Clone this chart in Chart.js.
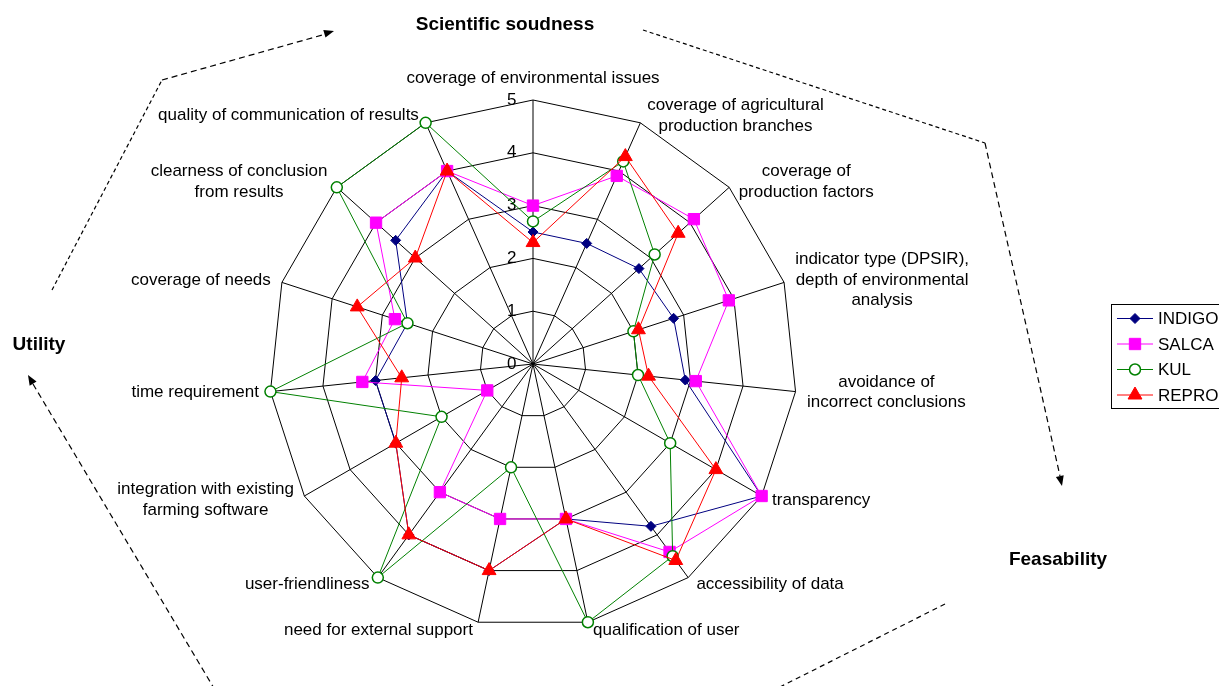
<!DOCTYPE html>
<html>
<head>
<meta charset="utf-8">
<title>Radar chart</title>
<script src="https://cdn.jsdelivr.net/npm/chart.js@4.4.1/dist/chart.umd.min.js"></script>
<style>
  html, body { margin: 0; padding: 0; background: #fff; }
  canvas { display: block; }
</style>
</head>
<body>
<canvas id="radarChart" width="1219" height="686"></canvas>
<script>
// criteria, clockwise from the top
const criteria = [
  "coverage of environmental issues",
  ["coverage of agricultural", "production branches"],
  ["coverage of", "production factors"],
  ["indicator type (DPSIR),", "depth of environmental", "analysis"],
  ["avoidance of", "incorrect conclusions"],
  "transparency",
  "accessibility of data",
  "qualification of user",
  "need for external support",
  "user-friendliness",
  ["integration with existing", "farming software"],
  "time requirement",
  "coverage of needs",
  ["clearness of conclusion", "from results"],
  "quality of communication of results"
];

// scores per tool
const indigo = [2.5, 2.5, 2.7, 2.8, 2.9, 5, 3.8, 3, 4, 4, 3, 3, 2.5, 3.5, 4];
const salca  = [3, 3.9, 4.1, 3.9, 3.1, 5, 4.4, 3, 3, 3, 1, 3.25, 2.75, 4, 4];
const kul    = [2.7, 4.2, 3.1, 2, 2, 3, 4.5, 5, 2, 5, 2, 5, 2.5, 5, 5];
const repro  = [2.3, 4.3, 3.7, 2.1, 2.2, 4, 4.6, 3, 4, 4, 3, 2.5, 3.5, 3, 4];

const tickValues = [0, 1, 2, 3, 4, 5];
const seriesNames = ["INDIGO", "SALCA", "KUL", "REPRO"];
const groupNames = ["Scientific soudness", "Utility", "Feasability"];

const FONT = '"Liberation Sans", Arial, sans-serif';
Chart.defaults.font.family = FONT;
Chart.defaults.color = "#000";

// draw a marker like the chart points (used for the legend)
function drawMarker(ctx, style, r, x, y) {
  ctx.beginPath();
  if (style === "rectRot") {
    ctx.moveTo(x - r, y); ctx.lineTo(x, y - r); ctx.lineTo(x + r, y); ctx.lineTo(x, y + r);
  } else if (style === "rect") {
    const s = Math.SQRT1_2 * r;
    ctx.rect(x - s, y - s, 2 * s, 2 * s);
  } else if (style === "triangle") {
    for (let k = 0; k < 3; k++) {
      const a = k * 2 * Math.PI / 3;
      const px = x + Math.sin(a) * r, py = y - Math.cos(a) * r;
      if (k === 0) ctx.moveTo(px, py); else ctx.lineTo(px, py);
    }
  } else {
    ctx.arc(x, y, r, 0, Math.PI * 2);
  }
  ctx.closePath();
  ctx.fill();
  ctx.stroke();
}

// axis labels, placed just outside the outer ring
const axisLabels = {
  id: "axisLabels",
  afterDraw(chart) {
    const scale = chart.scales.r;
    const ctx = chart.ctx;
    const lineH = 20.7;
    ctx.save();
    ctx.font = "17px " + FONT;
    ctx.fillStyle = "#000";
    ctx.textAlign = "center";
    ctx.textBaseline = "middle";
    criteria.forEach((label, i) => {
      const lines = Array.isArray(label) ? label : [label];
      const angle = scale.getIndexAngle(i);
      const p = scale.getPointPosition(i, scale.drawingArea + 8);
      const w = Math.max(...lines.map((t) => ctx.measureText(t).width));
      const h = lines.length * lineH;
      const s = Math.sin(angle);
      let cx = p.x;
      let top = p.y - h / 2;
      if (s > 0.05) cx = p.x + 3.5 + w / 2;
      else if (s < -0.05) cx = p.x - 3.5 - w / 2;
      else top = p.y - 3 - h;
      lines.forEach((t, k) => ctx.fillText(t, cx, top + lineH * (k + 0.5)));
    });
    ctx.restore();
  }
};

// legend box on the right, line + marker per series
const sideLegend = {
  id: "sideLegend",
  afterDraw(chart) {
    const ctx = chart.ctx;
    ctx.save();
    ctx.strokeStyle = "#000";
    ctx.lineWidth = 1;
    ctx.strokeRect(1111.5, 304.5, 130, 104);
    ctx.font = "17px " + FONT;
    ctx.textBaseline = "middle";
    ctx.textAlign = "left";
    chart.data.datasets.forEach((ds, i) => {
      const y = 318.5 + i * 25.5;
      ctx.strokeStyle = ds.borderColor;
      ctx.lineWidth = 1;
      ctx.beginPath();
      ctx.moveTo(1117, y);
      ctx.lineTo(1153, y);
      ctx.stroke();
      ctx.fillStyle = ds.pointBackgroundColor;
      ctx.strokeStyle = ds.pointBorderColor;
      ctx.lineWidth = ds.pointBorderWidth;
      drawMarker(ctx, ds.pointStyle, ds.pointRadius, 1135, y);
      ctx.fillStyle = "#000";
      ctx.fillText(ds.label, 1158, y + 1);
    });
    ctx.restore();
  }
};

// group titles and dashed arrows around the web
const groupArrows = {
  id: "groupArrows",
  afterDraw(chart) {
    const ctx = chart.ctx;
    ctx.save();
    ctx.strokeStyle = "#000";
    ctx.fillStyle = "#000";
    ctx.lineWidth = 1.2;

    function dashed(pts, dash) {
      ctx.setLineDash(dash);
      ctx.beginPath();
      ctx.moveTo(pts[0][0], pts[0][1]);
      for (let k = 1; k < pts.length; k++) ctx.lineTo(pts[k][0], pts[k][1]);
      ctx.stroke();
      ctx.setLineDash([]);
    }
    function head(from, to) {
      const a = Math.atan2(to[1] - from[1], to[0] - from[0]);
      const len = 10, half = 4;
      ctx.beginPath();
      ctx.moveTo(to[0], to[1]);
      ctx.lineTo(to[0] - len * Math.cos(a) + half * Math.sin(a), to[1] - len * Math.sin(a) - half * Math.cos(a));
      ctx.lineTo(to[0] - len * Math.cos(a) - half * Math.sin(a), to[1] - len * Math.sin(a) + half * Math.cos(a));
      ctx.closePath();
      ctx.fill();
    }

    dashed([[52, 290], [162, 80]], [4, 3]);
    dashed([[162, 80], [326, 34]], [6, 4]);
    head([162, 80], [334, 31]);

    dashed([[643, 30], [985, 143]], [4, 3]);
    dashed([[985, 143], [1060, 476]], [6, 4]);
    head([985, 143], [1062, 486]);

    dashed([[945, 604], [770, 692]], [5, 4]);

    dashed([[215, 690], [33, 384]], [6, 4]);
    head([215, 690], [28, 375]);

    ctx.font = "bold 19px " + FONT;
    ctx.textAlign = "center";
    ctx.textBaseline = "middle";
    ctx.fillText(groupNames[0], 505, 25);
    ctx.fillText(groupNames[1], 39, 345);
    ctx.fillText(groupNames[2], 1058, 560);
    ctx.restore();
  }
};

function series(name, data, color, style, radius, fillColor, borderW, order) {
  return {
    label: name,
    data: data,
    borderColor: color,
    backgroundColor: color,
    borderWidth: 1,
    fill: false,
    tension: 0,
    pointStyle: style,
    pointRadius: radius,
    pointHoverRadius: radius,
    pointBackgroundColor: fillColor,
    pointBorderColor: color,
    pointBorderWidth: borderW,
    order: order
  };
}

const ctx = document.getElementById("radarChart");

new Chart(ctx, {
  type: "radar",
  data: {
    labels: criteria,
    datasets: [
      series(seriesNames[0], indigo, "#000080", "rectRot", 5, "#000080", 1, 4),
      series(seriesNames[1], salca, "#ff00ff", "rect", 8, "#ff00ff", 1, 3),
      series(seriesNames[2], kul, "#008000", "circle", 5.5, "#ffffff", 1.5, 2),
      series(seriesNames[3], repro, "#ff0000", "triangle", 8, "#ff0000", 1, 1)
    ]
  },
  options: {
    responsive: false,
    animation: false,
    devicePixelRatio: 1,
    layout: { padding: { left: 261, top: 92, right: 413, bottom: 49 } },
    plugins: {
      legend: { display: false },
      tooltip: { enabled: false }
    },
    scales: {
      r: {
        min: -0.0001,
        max: tickValues[tickValues.length - 1],
        afterBuildTicks: (scale) => {
          scale.ticks = tickValues.map((v) => ({ value: v }));
        },
        ticks: {
          showLabelBackdrop: false,
          backdropPadding: 0,
          color: "#000",
          font: { size: 17 },
          // trailing blanks push the number left of the vertical axis
          callback: (v) => v + "         "
        },
        grid: { color: "#000", lineWidth: 1 },
        angleLines: { color: "#000", lineWidth: 1 },
        pointLabels: { display: false }
      }
    }
  },
  plugins: [axisLabels, sideLegend, groupArrows]
});
</script>
</body>
</html>
